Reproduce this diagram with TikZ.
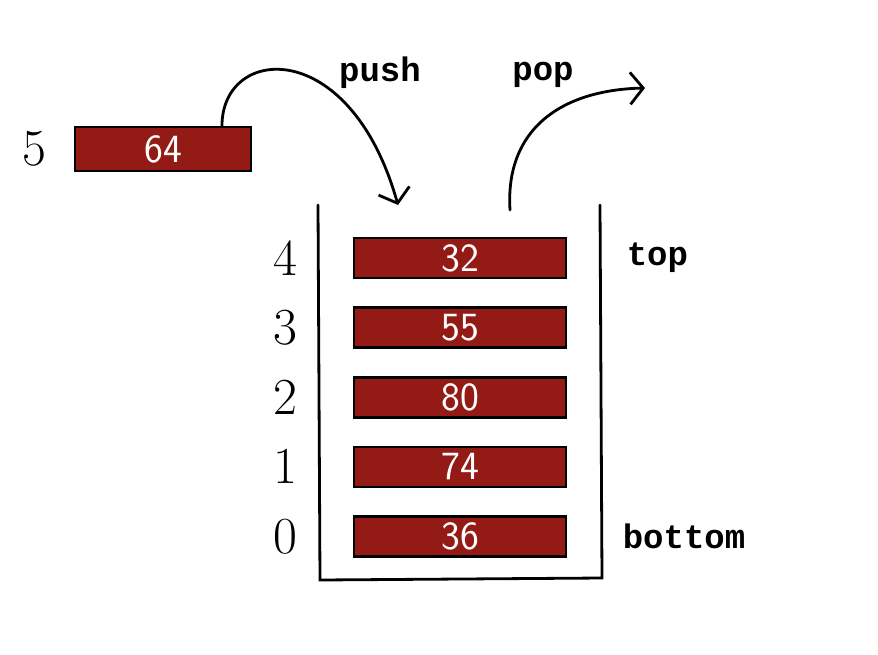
\documentclass[tikz,border=0pt]{standalone}
\usepackage{fontspec}
\newfontfamily\monofont{Liberation Mono}
\usetikzlibrary{arrows.meta,positioning}
\definecolor{brick}{RGB}{148,26,22}

\begin{document}
\begin{tikzpicture}[x=1pt,y=-1pt, node distance=27pt, line cap=round,
  blk/.style={draw,line width=2.6pt,fill=brick,minimum width=212pt,minimum height=40pt,inner sep=2pt,text=white,font=\sffamily\fontsize{40}{40}\selectfont},
  idx/.style={font=\fontsize{52}{52}\selectfont},
  lbl/.style={font=\monofont\bfseries\fontsize{34}{34}\selectfont},
  >={Straight Barb[length=13pt,width=32pt,line width=2.8pt]}]
\useasboundingbox (0,0) rectangle (878,654);
% the stack
\node[blk] (b4) at (460,258) {32};
\node[blk,below=of b4] (b3) {55};
\node[blk,below=of b3] (b2) {80};
\node[blk,below=of b2] (b1) {74};
\node[blk,below=of b1] (b0) {36};
\draw[line width=2.8pt] (318,205) -- (320,580) -- (602,578) -- (600,205);
\foreach \i in {0,...,4} \node[idx,left=52pt of b\i] (i\i) {\i};
\node[lbl,right=56pt of b4] (toplbl) {top};
\node[lbl,right=52pt of b0] (botlbl) {bottom};
% element waiting to be pushed
\node[blk,minimum width=176pt,minimum height=44pt] (new) at (163,149) {64};
\node[idx,left=24pt of new] (i5) {5};
\coordinate (pushend) at (398,205);
\coordinate (popstart) at (510,210);
\coordinate (popend) at (645,88);
\draw[->,line width=2.8pt] ([xshift=59pt]new.north) .. controls (222,45) and (350,35) .. (pushend);
\draw[->,line width=2.8pt] (popstart) .. controls (505,130) and (560,90) .. (popend);
\node[lbl] (pushlbl) at (380,73) {push};
\node[lbl] (poplbl) at (543,75) {pop};
\end{tikzpicture}
\end{document}
